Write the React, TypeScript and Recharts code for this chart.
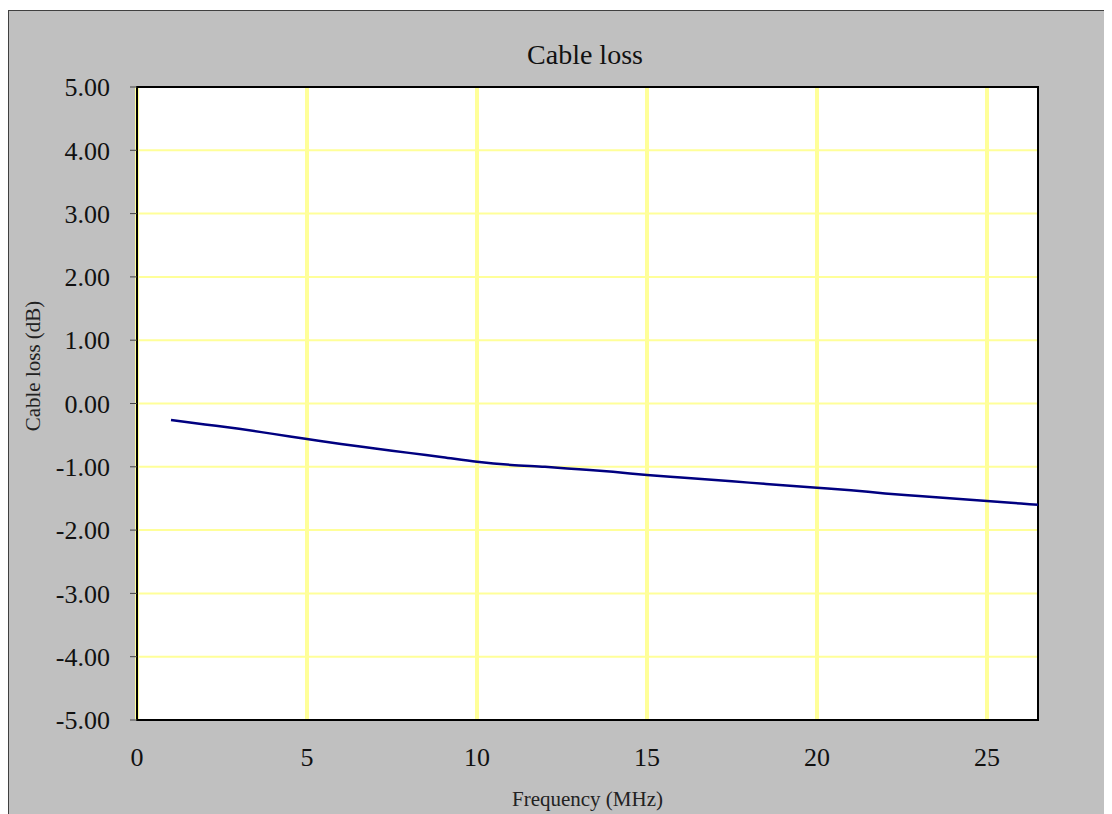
import React from "react"
import {
  LineChart,
  Line,
  XAxis,
  YAxis,
  CartesianGrid,
  ReferenceArea,
  Label,
} from "recharts"

const frequencies = [1, 2, 3, 4, 5, 6, 7, 8, 9, 10, 11, 12, 13, 14, 15, 16, 17, 18, 19, 20, 21, 22, 23, 24, 25, 26, 26.5]
const cableLoss = [
  -0.26, -0.33, -0.4, -0.48, -0.56, -0.64, -0.71, -0.78, -0.85, -0.92, -0.97, -1.0, -1.04, -1.08, -1.13,
  -1.17, -1.21, -1.25, -1.29, -1.33, -1.37, -1.42, -1.46, -1.5, -1.54, -1.58, -1.6,
]
const xTicks = [0, 5, 10, 15, 20, 25]
const yTicks = [-5, -4, -3, -2, -1, 0, 1, 2, 3, 4, 5]

const data = frequencies.map((f, i) => ({ freq: f, loss: cableLoss[i] }))

const FONT = "'Liberation Serif', 'DejaVu Serif', serif"
const GRID = "#ffff99"

export default function App() {
  return (
    <div
      style={{
        width: 1103,
        height: 803,
        marginTop: 2,
        background: "#c0c0c0",
        borderTop: "1px solid #404040",
        borderLeft: "1px solid #404040",
        fontFamily: FONT,
      }}
    >
      <style>{`body{overflow:hidden}`}</style>
      <LineChart width={1103} height={803} data={data} margin={{ top: 76, right: 74, left: 0, bottom: 34 }}>
        <CartesianGrid horizontal={false} stroke={GRID} strokeWidth={4} fill="#fff" verticalValues={xTicks} />
        <CartesianGrid vertical={false} stroke={GRID} strokeWidth={2} horizontalValues={yTicks} />
        <XAxis
          dataKey="freq"
          type="number"
          domain={[0, 26.5]}
          ticks={xTicks}
          allowDataOverflow
          height={60}
          tickLine={false}
          axisLine={false}
          tickMargin={22}
          tick={{ fill: "#111", fontSize: 26, fontFamily: FONT }}
        >
          <Label value="Frequency (MHz)" position="insideBottom" offset={-26} fill="#222" fontSize={21} fontFamily={FONT} />
        </XAxis>
        <YAxis
          type="number"
          domain={[-5, 5]}
          ticks={yTicks}
          width={128}
          interval={0}
          tickSize={7}
          tickMargin={20}
          axisLine={false}
          tickLine={{ stroke: "#444" }}
          tickFormatter={(v: number) => v.toFixed(2)}
          tick={{ fill: "#111", fontSize: 26, fontFamily: FONT }}
        />
        <ReferenceArea x1={0} x2={26.5} y1={-5} y2={5} fill="none" stroke="#000" strokeWidth={2} ifOverflow="visible" />
        <Line
          type="monotone"
          dataKey="loss"
          stroke="#000080"
          strokeWidth={2.5}
          dot={false}
          isAnimationActive={false}
        />
        <text x={576} y={53} textAnchor="middle" fontSize={28} fontFamily={FONT} fill="#111">
          Cable loss
        </text>
        <text
          x={31}
          y={355}
          transform="rotate(-90 31 355)"
          textAnchor="middle"
          fontSize={21}
          fontFamily={FONT}
          fill="#222"
        >
          Cable loss (dB)
        </text>
      </LineChart>
    </div>
  )
}
